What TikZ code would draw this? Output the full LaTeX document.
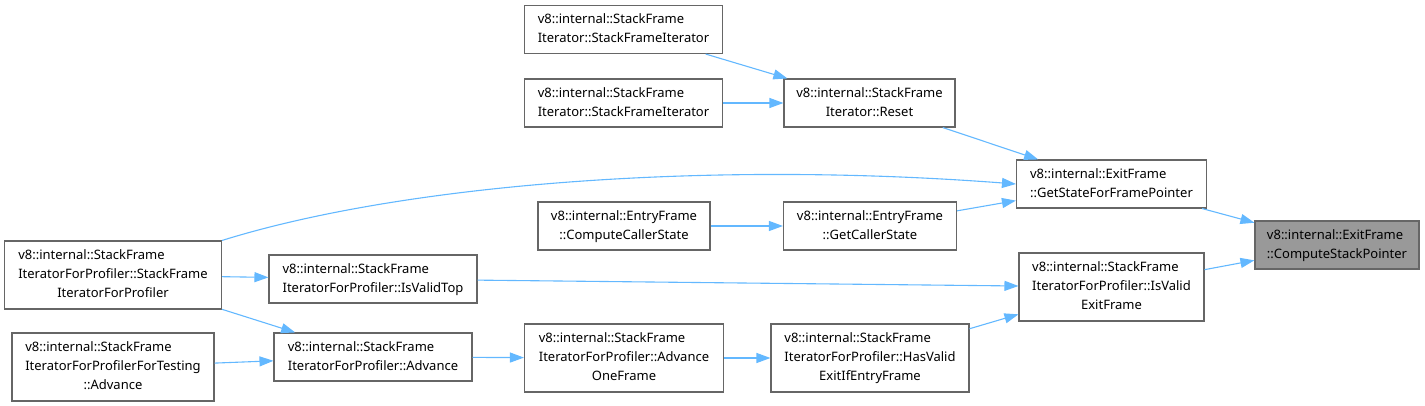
\documentclass[tikz,border=0pt]{standalone}
\usepackage{fontspec}
\setmainfont{Noto Sans}
\usepackage{tikz}
\usetikzlibrary{arrows.meta}
\definecolor{edgeblue}{RGB}{99,184,255}
\definecolor{boxgray}{RGB}{102,102,102}
\definecolor{rootfill}{RGB}{153,153,153}
% first label line is flush left, the rest centred
\newcommand{\flabel}[2]{\begin{tabular}{@{}c@{}}\multicolumn{1}{@{}l@{}}{#1}\\#2\end{tabular}}
\tikzset{
  fnode/.style={rectangle, draw=boxgray, fill=white,
    minimum height=48pt, inner xsep=4pt, inner ysep=0pt, line width=1.1pt,
    font=\fontsize{13}{19}\selectfont},
  fnode3/.style={fnode, minimum height=68pt},
  rootnode/.style={fnode, fill=rootfill},
  arrow/.style={-{Triangle[length=14pt, width=10pt]}, line width=1.1pt, color=edgeblue}
}
\begin{document}
\begin{tikzpicture}[x=1pt, y=-1pt]
  \useasboundingbox (0,0) rectangle (1425,406);

  \node[rootnode, minimum width=164pt] (csp) at (1337,245) {\flabel{v8::internal::ExitFrame}{::ComputeStackPointer}};
  \node[fnode, minimum width=190pt] (gsffp) at (1111.5,184) {\flabel{v8::internal::ExitFrame}{::GetStateForFramePointer}};
  \node[fnode3, minimum width=185pt] (isvef) at (1111.5,287) {\flabel{v8::internal::StackFrame}{IteratorForProfiler::IsValid\\ExitFrame}};
  \node[fnode, minimum width=171pt] (reset) at (869.5,103) {\flabel{v8::internal::StackFrame}{Iterator::Reset}};
  \node[fnode, minimum width=173pt] (gcs) at (870,226) {\flabel{v8::internal::EntryFrame}{::GetCallerState}};
  \node[fnode3, minimum width=198pt] (hasvalid) at (870,358) {\flabel{v8::internal::StackFrame}{IteratorForProfiler::HasValid\\ExitIfEntryFrame}};
  \node[fnode, minimum width=198pt] (sfia) at (623.5,29.5) {\flabel{v8::internal::StackFrame}{Iterator::StackFrameIterator}};
  \node[fnode, minimum width=198pt] (sfib) at (623.5,103) {\flabel{v8::internal::StackFrame}{Iterator::StackFrameIterator}};
  \node[fnode, minimum width=172pt] (ccs) at (624,226) {\flabel{v8::internal::EntryFrame}{::ComputeCallerState}};
  \node[fnode3, minimum width=199pt] (aof) at (624,358) {\flabel{v8::internal::StackFrame}{IteratorForProfiler::Advance\\OneFrame}};
  \node[fnode3, minimum width=217pt] (sfip) at (113,275) {\flabel{v8::internal::StackFrame}{IteratorForProfiler::StackFrame\\IteratorForProfiler}};
  \node[fnode, minimum width=208pt] (isvt) at (373,279) {\flabel{v8::internal::StackFrame}{IteratorForProfiler::IsValidTop}};
  \node[fnode, minimum width=198pt] (adv) at (373,357) {\flabel{v8::internal::StackFrame}{IteratorForProfiler::Advance}};
  \node[fnode3, minimum width=202pt] (advt) at (113,367) {\flabel{v8::internal::StackFrame}{IteratorForProfilerForTesting\\::Advance}};

  % callers point at callees
  \draw[arrow] (gsffp) -- (csp);
  \draw[arrow] (isvef) -- (csp);
  \draw[arrow] (reset) -- (gsffp);
  \draw[arrow] (gcs) -- (gsffp);
  \draw[arrow] (sfia) -- (reset);
  \draw[arrow] (sfib) -- (reset);
  \draw[arrow] (ccs) -- (gcs);
  \draw[arrow] (sfip.north east) .. controls (400,185) and (700,160) .. (gsffp.west);
  \draw[arrow] (isvt) -- (isvef);
  \draw[arrow] (hasvalid) -- (isvef);
  \draw[arrow] (aof) -- (hasvalid);
  \draw[arrow] (adv) -- (aof);
  \draw[arrow] (sfip) -- (isvt);
  \draw[arrow] (sfip) -- (adv);
  \draw[arrow] (advt) -- (adv);
\end{tikzpicture}
\end{document}
